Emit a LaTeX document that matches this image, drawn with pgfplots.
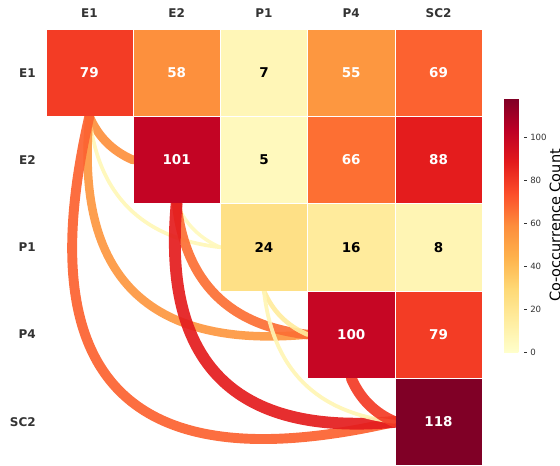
\documentclass[border=0pt]{standalone}
\usepackage{pgfplots}
\usepackage{pgfplotstable}
\usepackage{fontspec}
\setmainfont{DejaVu Sans}
\pgfplotsset{compat=1.18}
\definecolor{lab}{HTML}{333333}
% YlOrRd anchors
\definecolor{ylo0}{RGB}{255,255,204}
\definecolor{ylo1}{RGB}{255,237,160}
\definecolor{ylo2}{RGB}{254,217,118}
\definecolor{ylo3}{RGB}{254,178,76}
\definecolor{ylo4}{RGB}{253,141,60}
\definecolor{ylo5}{RGB}{252,78,42}
\definecolor{ylo6}{RGB}{227,26,28}
\definecolor{ylo7}{RGB}{189,0,38}
\definecolor{ylo8}{RGB}{128,0,38}
\pgfplotsset{colormap={ylorrd}{color=(ylo0) color=(ylo1) color=(ylo2) color=(ylo3)
  color=(ylo4) color=(ylo5) color=(ylo6) color=(ylo7) color=(ylo8)}}

% upper triangle of the co-occurrence matrix (column x, row y)
\pgfplotstableread{
x y v
0 0 79
1 0 58
2 0 7
3 0 55
4 0 69
1 1 101
2 1 5
3 1 66
4 1 88
2 2 24
3 2 16
4 2 8
3 3 100
4 3 79
4 4 118
}\cells

% arc from bottom of diagonal cell #1 to left side of diagonal cell #2, value #3
\newcommand\arcpair[3]{\pgfplotsextra{%
  \pgfmathsetmacro\arcSX{#1}\pgfmathsetmacro\arcSY{#1+0.5}%
  \pgfmathsetmacro\arcEX{#2-0.5}\pgfmathsetmacro\arcEY{#2}%
  \pgfmathsetmacro\arcFS{0.2*(#2-#1)*(#2-#1-0.5)}%
  \pgfmathsetmacro\arcCX{(\arcSX+\arcEX)/2-\arcFS}%
  \pgfmathsetmacro\arcCY{(\arcSY+\arcEY)/2+\arcFS}%
  \pgfmathsetmacro\arcAX{\arcSX+2/3*(\arcCX-\arcSX)}%
  \pgfmathsetmacro\arcAY{\arcSY+2/3*(\arcCY-\arcSY)}%
  \pgfmathsetmacro\arcBX{\arcEX+2/3*(\arcCX-\arcEX)}%
  \pgfmathsetmacro\arcBY{\arcEY+2/3*(\arcCY-\arcEY)}%
  \pgfmathtruncatemacro\arcKA{min(floor(8*#3/118),7)}%
  \pgfmathtruncatemacro\arcKB{\arcKA+1}%
  \pgfmathsetmacro\arcFR{(8*#3/118-\arcKA)*100}%
  \colorlet{arcc}{ylo\arcKB!\arcFR!ylo\arcKA}%
  \pgfmathsetmacro\arcLW{3+0.1*#3}%
  \draw[arcc, opacity=0.92, line width=\arcLW pt, line cap=round]
    (axis cs:\arcSX,\arcSY) .. controls (axis cs:\arcAX,\arcAY) and (axis cs:\arcBX,\arcBY) .. (axis cs:\arcEX,\arcEY);
}}

\begin{document}
\begin{tikzpicture}
\begin{axis}[
  name=main,
  scale only axis, width=436.5pt, height=436.5pt,
  xmin=-0.5, xmax=4.5, ymin=-0.5, ymax=4.5, y dir=reverse,
  axis line style={draw=none}, major tick length=0pt,
  xtick={0,...,4}, ytick={0,...,4},
  xticklabels={E1,E2,P1,P4,SC2}, yticklabels={E1,E2,P1,P4,SC2},
  xticklabel pos=top,
  ticklabel style={font=\bfseries\fontsize{12}{14}\selectfont, text=lab},
  xticklabel shift=8pt, yticklabel shift=6.4pt,
  clip=false,
  colormap name=ylorrd, point meta min=0, point meta max=118,
  colorbar,
  colorbar style={
    at={(parent axis.north east)}, anchor=north west, xshift=13.5pt, yshift=-69.3pt,
    scale only axis, width=20pt, height=254.4pt,
    axis line style={draw=none},
    ytick={0,20,...,100}, ytick pos=right, yticklabel pos=right,
    tick align=outside, major tick length=2.5pt,
    tick style={lab, line width=0.6pt},
    yticklabel style={font=\fontsize{8.6}{10}\selectfont, text=lab},
    /pgf/number format/assume math mode=true,
    ylabel={Co-occurrence Count}, ylabel shift=-4pt,
    ylabel style={font=\fontsize{14.5}{17}\selectfont, text=black},
  },
]
\addplot[scatter, only marks, mark=square*, mark size=42.6pt,
  point meta=\thisrow{v},
  scatter/use mapped color={draw=mapped color, fill=mapped color},
] table[x=x, y=y] {\cells};

\arcpair{0}{1}{58}
\arcpair{0}{2}{7}
\arcpair{0}{3}{55}
\arcpair{0}{4}{69}
\arcpair{1}{2}{5}
\arcpair{1}{3}{66}
\arcpair{1}{4}{88}
\arcpair{2}{3}{16}
\arcpair{2}{4}{8}
\arcpair{3}{4}{79}

% cell values: white on dark cells, black on light cells
\addplot[draw=none, mark=none, point meta=\thisrow{v},
  restrict expr to domain={\thisrow{v}}{40:200},
  nodes near coords={\pgfmathprintnumber[assume math mode=true]{\pgfplotspointmeta}},
  every node near coord/.append style={anchor=center, text=white,
    font=\bfseries\fontsize{13.5}{16}\selectfont},
] table[x=x, y=y] {\cells};
\addplot[draw=none, mark=none, point meta=\thisrow{v},
  restrict expr to domain={\thisrow{v}}{0:40},
  nodes near coords={\pgfmathprintnumber[assume math mode=true]{\pgfplotspointmeta}},
  every node near coord/.append style={anchor=center, text=black,
    font=\bfseries\fontsize{13.5}{16}\selectfont},
] table[x=x, y=y] {\cells};
\end{axis}
\pgfresetboundingbox
\path (main.south west) ++(-45.7pt,-0.5pt) rectangle ++(560pt,466pt);
\end{tikzpicture}
\end{document}
